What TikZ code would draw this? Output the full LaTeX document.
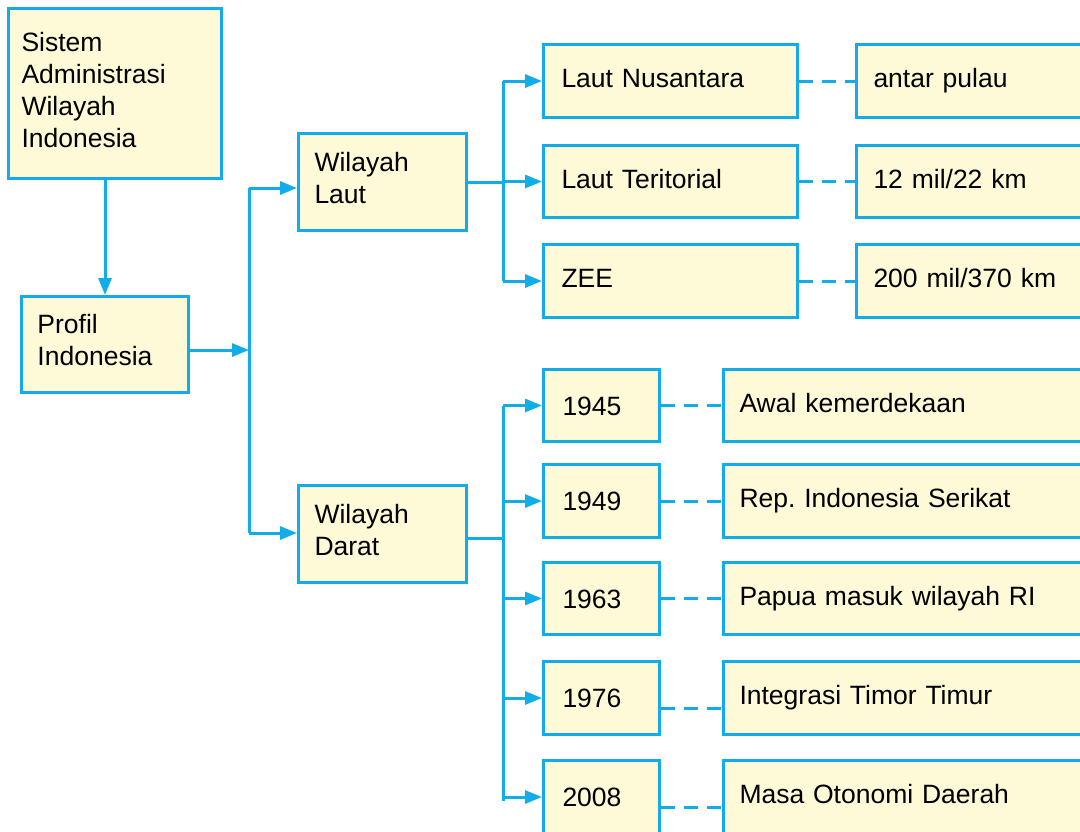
\documentclass[tikz,border=0pt]{standalone}
\usepackage{fontspec}
\setmainfont{Liberation Sans}
\usetikzlibrary{arrows.meta}
\definecolor{cyanline}{HTML}{12ADE8}
\definecolor{cream}{HTML}{FEF9D6}
\frenchspacing
\begin{document}
\begin{tikzpicture}[x=1pt,y=-1pt,
  box/.style={draw=cyanline, fill=cream, line width=3pt, anchor=north west, align=left,
    inner ysep=0pt, font=\fontsize{26.5pt}{32pt}\selectfont\frenchspacing, text height=19pt, text depth=6pt},
  lautbox/.style={box, minimum width=254pt, inner xsep=18pt, text width=218pt},
  rightbox/.style={box, minimum width=260pt, inner xsep=17pt, text width=226pt},
  yearbox/.style={box, minimum width=116pt, inner xsep=19pt, text width=78pt, text depth=0pt},
  descbox/.style={box, minimum width=400pt, inner xsep=16pt, text width=368pt},
  conn/.style={draw=cyanline, line width=3pt},
  arr/.style={conn, -{Triangle[length=17pt,width=13pt]}},
  dashconn/.style={conn, dash pattern=on 14pt off 9pt}
]
\useasboundingbox (0,0) rectangle (1080,831);
\clip (0,0) rectangle (1080,831);

% left part
\node[box, minimum width=213pt, minimum height=170pt, inner xsep=13pt, text width=187pt, text depth=103pt] (sys) at (7,7) {Sistem\\Administrasi\\Wilayah\\Indonesia};
\node[box, minimum width=167pt, minimum height=96pt, inner xsep=16pt, text width=135pt, text depth=41pt] (prof) at (20,295) {Profil\\Indonesia};
\node[box, minimum width=168pt, minimum height=97pt, inner xsep=16pt, text width=136pt, text depth=40pt] (wl) at (297,132) {Wilayah\\Laut};
\node[box, minimum width=168pt, minimum height=97pt, inner xsep=16pt, text width=136pt, text depth=40pt] (wd) at (297,484) {Wilayah\\Darat};

% laut
\node[lautbox, minimum height=73pt] (ln) at (542,43) {Laut Nusantara};
\node[lautbox, minimum height=72pt] (lt) at (542,144) {Laut Teritorial};
\node[lautbox, minimum height=73pt] (zee) at (542,243) {ZEE};
\node[rightbox, minimum height=73pt] (r1) at (855,43) {antar pulau};
\node[rightbox, minimum height=72pt] (r2) at (855,144) {12 mil/22 km};
\node[rightbox, minimum height=73pt] (r3) at (855,243) {200 mil/370 km};

% darat
\node[yearbox, minimum height=72pt] (y1) at (542,368) {1945};
\node[yearbox, minimum height=73pt] (y2) at (542,463) {1949};
\node[yearbox, minimum height=72pt] (y3) at (542,561) {1963};
\node[yearbox, minimum height=73pt] (y4) at (542,660) {1976};
\node[yearbox, minimum height=73pt] (y5) at (542,759) {2008};
\node[descbox, minimum height=72pt] (d1) at (722,368) {Awal kemerdekaan};
\node[descbox, minimum height=73pt] (d2) at (722,463) {Rep. Indonesia Serikat};
\node[descbox, minimum height=72pt] (d3) at (722,561) {Papua masuk wilayah RI};
\node[descbox, minimum height=73pt] (d4) at (722,660) {Integrasi Timor Timur};
\node[descbox, minimum height=73pt] (d5) at (722,759) {Masa Otonomi Daerah};

% connectors: left
\draw[arr] (sys.south -| prof.north) -- (prof.north);
\coordinate (ta) at (249,188);
\coordinate (tm) at (249,350);
\coordinate (tb) at (249,533);
\draw[conn] (ta) -- (tb);
\draw[arr] (prof.east |- tm) -- (tm);
\draw[arr] (ta) -- (ta -| wl.west);
\draw[arr] (tb) -- (tb -| wd.west);

% connectors: laut
\coordinate (lx) at (503,0);
\draw[conn] (wl.east) -- (lx |- wl.east);
\draw[conn] (lx |- ln.west) -- (lx |- zee.west);
\draw[arr] (lx |- ln.west) -- (ln.west);
\draw[arr] (lx |- lt.west) -- (lt.west);
\draw[arr] (lx |- zee.west) -- (zee.west);
\draw[dashconn] (ln.east) -- (r1.west);
\draw[dashconn] (lt.east) -- (r2.west);
\draw[dashconn] (zee.east) -- (r3.west);

% connectors: darat
\coordinate (dx) at (503,0);
\coordinate (wde) at ([yshift=-4pt]wd.east);
\coordinate (dbot) at (503,801);
\draw[conn] (wde) -- (dx |- wde);
\draw[conn] (dx |- y1.west) -- (dbot);
\draw[arr] (dx |- y1.west) -- (y1.west);
\draw[arr] (dx |- y2.west) -- (y2.west);
\draw[arr] (dx |- y3.west) -- (y3.west);
\draw[arr] (dx |- y4.west) -- (y4.west);
\draw[arr] (dx |- y5.west) -- (y5.west);
\draw[dashconn] (y1.east) -- (d1.west);
\draw[dashconn] (y2.east) -- (d2.west);
\draw[dashconn] (y3.east) -- (d3.west);
\draw[dashconn] ([yshift=-10pt]y4.east) -- ([yshift=-10pt]d4.west);
\draw[dashconn] ([yshift=-10pt]y5.east) -- ([yshift=-10pt]d5.west);
\end{tikzpicture}
\end{document}
